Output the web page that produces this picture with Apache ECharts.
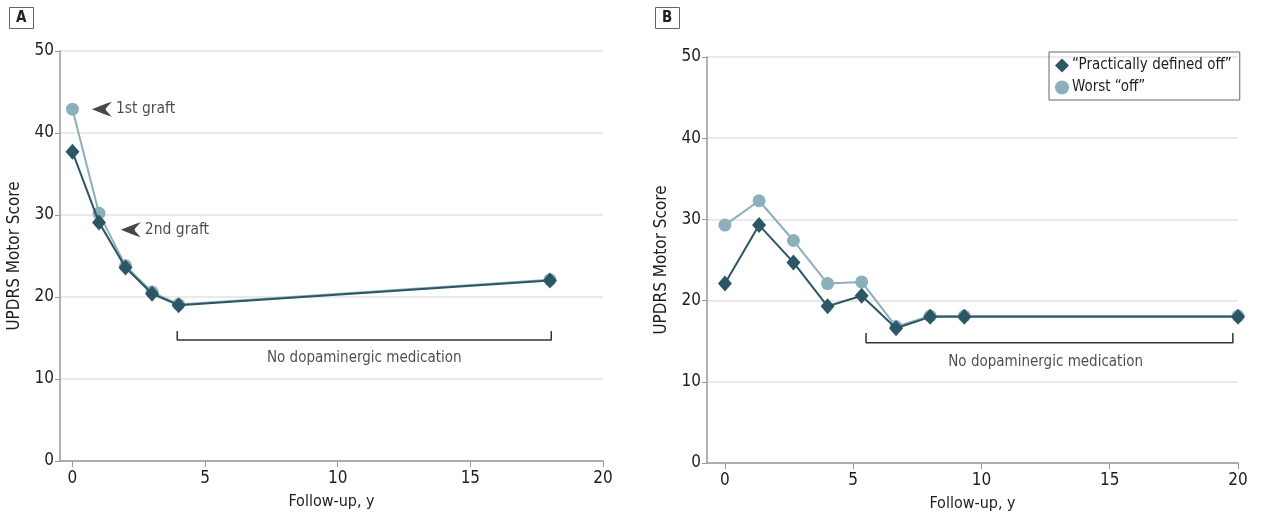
<!DOCTYPE html>
<html>
<head>
<meta charset="utf-8">
<title>UPDRS Motor Score</title>
<script src="https://cdn.jsdelivr.net/npm/echarts@6.0.0/dist/echarts.min.js"></script>
<style>
  html, body { margin: 0; padding: 0; background: #fff; }
  #chart { width: 1264px; height: 519px; }
</style>
</head>
<body>
<div id="chart"></div>
<script>
// panel A
var yearsA = [0, 1, 2, 3, 4, 18];
var practicalA = [37.7, 29.1, 23.6, 20.4, 19.0, 22.0];
var worstA = [42.9, 30.2, 23.8, 20.6, 19.1, 22.1];
var graftArrows = [[1.11, 42.9, '1st graft'], [2.2, 28.2, '2nd graft']];
var bracketA = [[3.95, 15.85], [3.95, 14.75], [18.05, 14.75], [18.05, 15.85]];
var noteA = [11.0, 12.6];

// panel B
var yearsB = [0, 1.33, 2.67, 4, 5.33, 6.67, 8, 9.33, 20];
var practicalB = [22.1, 29.3, 24.7, 19.3, 20.6, 16.6, 18.0, 18.0, 18.0];
var worstB = [29.3, 32.3, 27.4, 22.1, 22.3, 16.8, 18.1, 18.1, 18.1];
var bracketB = [[5.5, 16.0], [5.5, 14.8], [19.8, 14.8], [19.8, 16.0]];
var noteB = [12.5, 12.4];

var xTicks = [0, 5, 10, 15, 20];
var yTicks = [0, 10, 20, 30, 40, 50];
var noteText = 'No dopaminergic medication';
var legendNames = ['\u201cPractically defined off\u201d', 'Worst \u201coff\u201d'];

var FONT = "'DejaVu Sans Condensed', 'Liberation Sans Narrow', 'Liberation Sans', sans-serif";
var DARK = '#2c5664';
var LIGHT = '#8cafbc';
var TEXT = '#1e1e1e';

function zip(xs, ys) {
  return xs.map(function (x, i) { return [x, ys[i]]; });
}

function xAxisFor(idx, min) {
  return {
    gridIndex: idx, type: 'value', min: min, max: 20,
    name: 'Follow-up, y', nameLocation: 'middle', nameGap: 33,
    nameTextStyle: { fontFamily: FONT, fontSize: 16, color: TEXT },
    axisLine: { show: true, onZero: false, lineStyle: { color: '#999', width: 1.5 } },
    axisTick: { show: true, length: 6, customValues: xTicks, lineStyle: { color: '#999' } },
    axisLabel: { customValues: xTicks, fontFamily: FONT, fontSize: 17, color: TEXT, margin: 9 },
    splitLine: { show: false }
  };
}

function yAxisFor(idx) {
  return {
    gridIndex: idx, type: 'value', min: 0, max: 50, interval: 10,
    name: 'UPDRS Motor Score', nameLocation: 'middle', nameGap: 37,
    nameTextStyle: { fontFamily: FONT, fontSize: 17, color: TEXT },
    axisLine: { show: true, onZero: false, lineStyle: { color: '#999', width: 1.5 } },
    axisTick: { show: true, length: 5, lineStyle: { color: '#999' } },
    axisLabel: { fontFamily: FONT, fontSize: 17, color: TEXT, margin: 6 },
    splitLine: { show: true, lineStyle: { color: '#e2e2e2', width: 1.5 } }
  };
}

function dataSeries(name, idx, xs, ys, color, symbol, size, z) {
  return {
    name: name, type: 'line', xAxisIndex: idx, yAxisIndex: idx,
    data: zip(xs, ys), symbol: symbol, symbolSize: size, z: z,
    lineStyle: { color: color, width: 2 },
    itemStyle: { color: color, borderColor: color, borderWidth: 0 },
    animation: false
  };
}

function bracketSeries(idx, pts, note) {
  return [{
    type: 'line', xAxisIndex: idx, yAxisIndex: idx, data: pts, symbol: 'none',
    lineStyle: { color: '#333', width: 1.5 }, silent: true, animation: false
  }, {
    type: 'scatter', xAxisIndex: idx, yAxisIndex: idx, data: [note], symbolSize: 0,
    silent: true, animation: false,
    label: { show: true, position: 'inside', formatter: noteText, fontFamily: FONT, fontSize: 15, color: TEXT }
  }];
}

var chart = echarts.init(document.getElementById('chart'));

var option = {
  backgroundColor: '#fff',
  textStyle: { fontFamily: FONT },
  title: [
    { text: 'A', left: 9, top: 7, padding: [4, 7, 3, 7], borderColor: '#666', borderWidth: 1,
      textStyle: { fontFamily: FONT, fontSize: 15, fontWeight: 'bold', color: '#222' } },
    { text: 'B', left: 655, top: 7, padding: [4, 7, 3, 7], borderColor: '#666', borderWidth: 1,
      textStyle: { fontFamily: FONT, fontSize: 15, fontWeight: 'bold', color: '#222' } }
  ],
  legend: {
    left: 1049, top: 52, orient: 'vertical', padding: [6, 8, 5, 6], itemGap: 7,
    itemWidth: 14, itemHeight: 14, borderColor: '#666', borderWidth: 1,
    textStyle: { fontFamily: FONT, fontSize: 15, color: TEXT, padding: [0, 0, 0, -2] },
    data: [
      { name: legendNames[0], icon: 'diamond', itemStyle: { color: DARK } },
      { name: legendNames[1], icon: 'circle', itemStyle: { color: LIGHT } }
    ]
  },
  grid: [
    { left: 60, width: 543, top: 51, height: 410 },
    { left: 707, width: 531, top: 57, height: 406 }
  ],
  xAxis: [xAxisFor(0, -0.47), xAxisFor(1, -0.7)],
  yAxis: [yAxisFor(0), yAxisFor(1)],
  series: [
    dataSeries('A-worst', 0, yearsA, worstA, LIGHT, 'circle', 13, 2),
    dataSeries('A-practical', 0, yearsA, practicalA, DARK, 'diamond', [14, 16], 3),
    dataSeries(legendNames[1], 1, yearsB, worstB, LIGHT, 'circle', 13, 2),
    dataSeries(legendNames[0], 1, yearsB, practicalB, DARK, 'diamond', [14, 16], 3),
    {
      type: 'scatter', xAxisIndex: 0, yAxisIndex: 0, silent: true, animation: false,
      data: graftArrows.map(function (a) { return { value: [a[0], a[1]], name: a[2] }; }),
      symbol: 'path://M0,8 C6,6 14,2 22,0 C18,4 16,6 15,8 C16,10 18,12 22,16 C14,14 6,10 0,8 Z',
      symbolSize: [20, 15],
      itemStyle: { color: '#1a1a1a' },
      label: { show: true, position: 'right', distance: 4, formatter: '{b}', fontFamily: FONT, fontSize: 15.5, color: TEXT }
    }
  ].concat(bracketSeries(0, bracketA, noteA), bracketSeries(1, bracketB, noteB))
};

chart.setOption(option);
</script>
</body>
</html>
